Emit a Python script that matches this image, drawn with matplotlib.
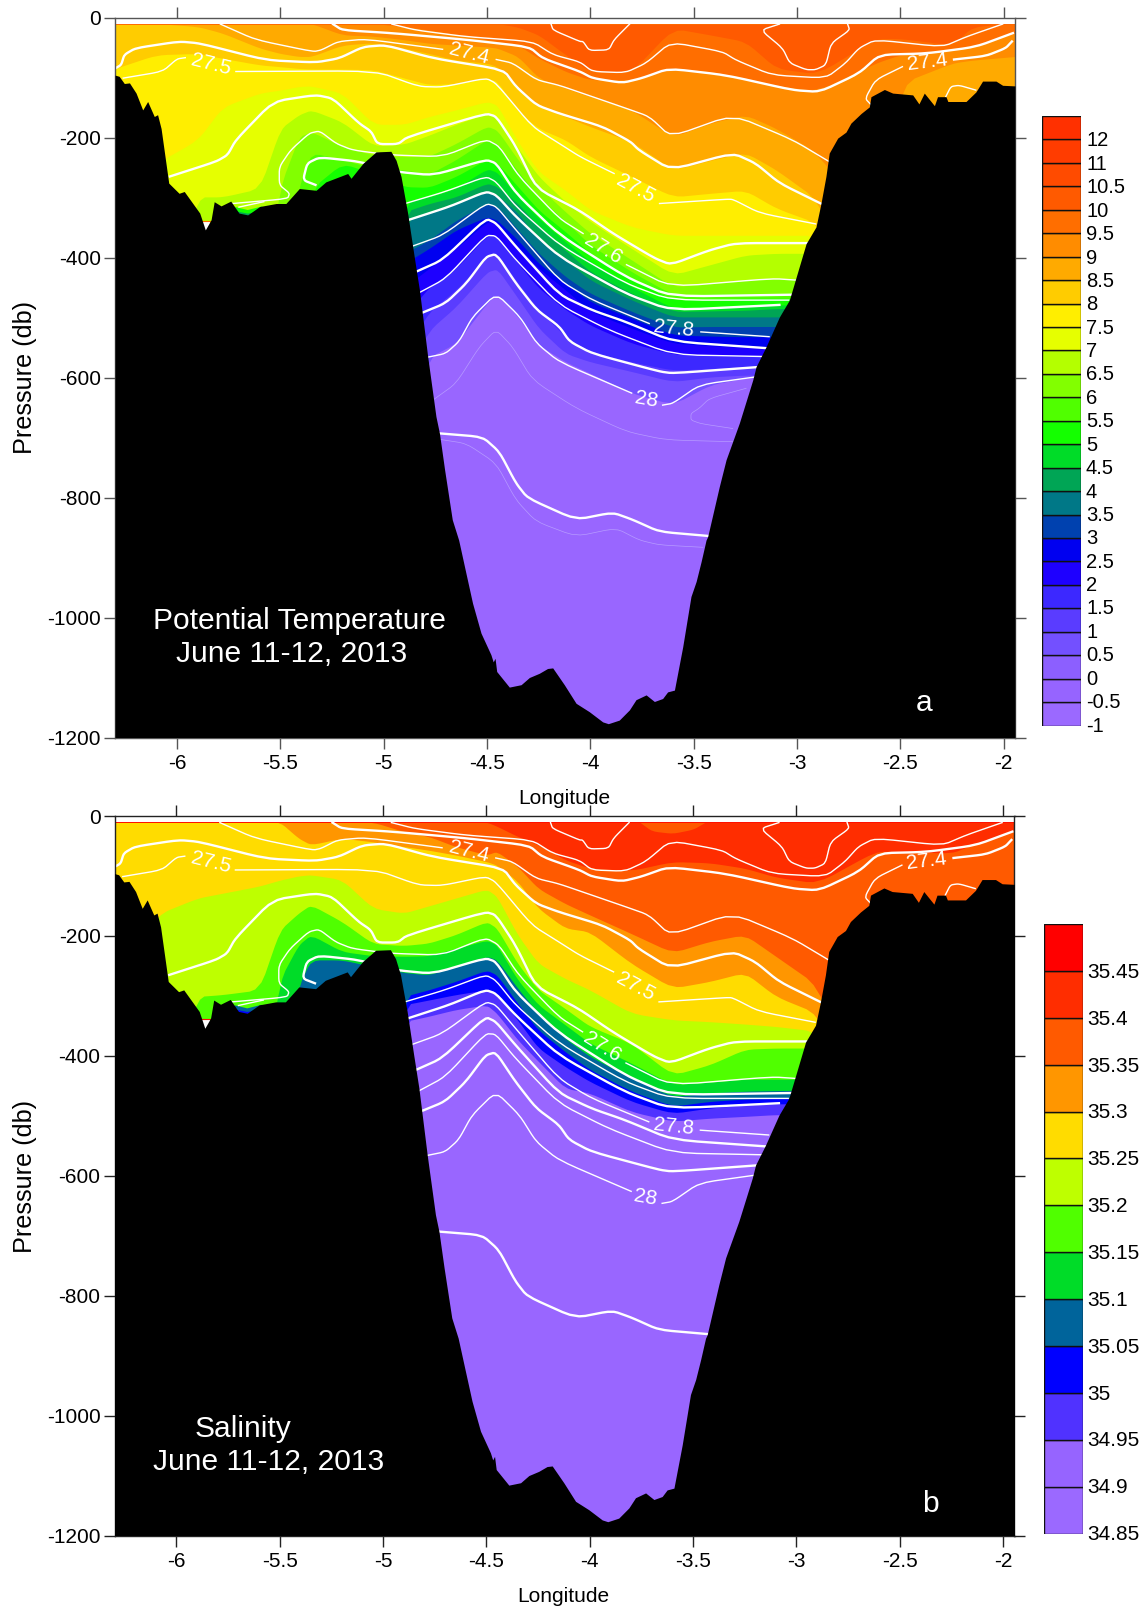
import numpy as np
import matplotlib
matplotlib.use("Agg")
import matplotlib.pyplot as plt

plt.rcParams['font.family'] = ['Liberation Sans', 'DejaVu Sans']
plt.rcParams['axes.unicode_minus'] = False

W, H = 1145, 1611

lon_grid = [-6.30,-6.10,-5.90,-5.78,-5.60,-5.50,-5.41,-5.35,-5.20,-5.05,-4.90,-4.78,-4.65,-4.50,-4.45,
            -4.35,-4.25,-4.12,-4.00,-3.80,-3.60,-3.42,-3.25,-3.10,-2.90,-2.62,-2.50,-2.25,-2.15,-1.945]

# ---- potential temperature: pressure of each isotherm along lon_grid
T10 = [-10]*15+[-16,-29,-62,-90,-90,-18,-29,-40,-85,-94,-35,-35,-46,-15,-10]
T95 = [-10]*10+[-15,-21,-28,-37,-40,-46,-68,-90,-104,-104,-85,-90,-101,-114,-122,-76,-62,-54,-49,-26]
T9  = [-10]*8+[-29,-31,-37,-43,-46,-49,-51,-65,-101,-118,-132,-154,-199,-176,-162,-185,-226,-360,-110,-76,-71,-65]
T85 = [-10,-10,-15,-26,-51,-60,-65,-65,-46,-42,-51,-60,-71,-76,-82,-118,-149,-165,-182,-207,-254,-238,-225,-254,-304,-500,-500,-500,-500,-500]
T8  = [-85,-62,-60,-68,-79,-82,-85,-86,-86,-87,-101,-112,-110,-101,-107,-157,-185,-204,-232,-265,-299,-293,-288,-318,-343,-500,-500,-500,-500,-500]
T75 = [-400,-243,-204,-149,-126,-121,-115,-114,-126,-178,-178,-165,-154,-140,-146,-207,-257,-288,-321,-349,-363,-363,-363,-363,-363,-500,-500,-500,-500,-500]
T7  = [-500,-500,-299,-299,-285,-185,-162,-154,-174,-214,-211,-196,-178,-160,-168,-218,-265,-307,-340,-385,-429,-412,-396,-393,-393]+[-500]*5
T65 = [-500]*5+[-280,-199,-190,-215,-229,-232,-231,-210,-181,-188,-237,-282,-324,-360,-404,-449,-443,-438,-435,-435]+[-500]*5
T6  = [-500]*6+[-280,-225,-237,-251,-254,-261,-237,-203,-210,-257,-299,-340,-379,-424,-462,-461,-460,-460,-460]+[-500]*5
T55 = [-500]*7+[-285,-243,-260,-282,-283,-265,-236,-243,-282,-321,-357,-393,-435,-471,-469,-468,-468,-468]+[-500]*5
T5  = [-700]*10+[-307,-299,-285,-252,-258,-299,-335,-374,-407,-449,-485,-482,-481,-479,-479]+[-700]*5
T45 = [-700]*10+[-324,-310,-299,-276,-282,-310,-349,-388,-424,-460,-490,-489,-488,-485,-485]+[-700]*5
T4  = [-700]*10+[-340,-326,-310,-290,-296,-326,-371,-404,-438,-471,-499,-499,-499,-499,-499]+[-700]*5
T35 = [-700]*10+[-393,-371,-338,-310,-315,-354,-393,-432,-460,-490,-516,-515,-515,-515,-515]+[-700]*5
T3  = [-700]*10+[-410,-385,-354,-332,-338,-371,-410,-443,-474,-501,-529,-531,-532,-532,-532]+[-700]*5
T25 = [-700]*10+[-450,-418,-385,-340,-342,-382,-418,-454,-490,-518,-543,-547,-550,-551,-551]+[-700]*5
T2  = [-700]*10+[-500,-449,-418,-363,-364,-410,-451,-487,-513,-543,-561,-564,-565,-565,-565]+[-700]*5
T15 = [-800]*10+[-560,-490,-454,-399,-394,-443,-487,-532,-557,-574,-588,-585,-582,-582,-582]+[-800]*5
T1  = [-800]*10+[-600,-521,-482,-424,-419,-468,-518,-560,-574,-590,-607,-599,-596,-596,-596]+[-800]*5
T05 = [-800]*10+[-700,-566,-543,-476,-460,-499,-546,-574,-593,-626,-645,-612,-601,-596,-596]+[-800]*5

temp_layers = [T10,T95,T9,T85,T8,T75,T7,T65,T6,T55,T5,T45,T4,T35,T3,T25,T2,T15,T1,T05]
temp_top = '#FF5A00'
temp_cols = ['#FF6E00','#FF8C00','#FFAA00','#FFCC00','#FFEE00','#E6FF00','#B4FF00','#82FF00','#50FF00','#14FF00',
             '#00DC28','#00A555','#007887','#0041AF','#0000F0','#1E00FF','#3C28FF','#5A3CFF','#7350FF','#9966FF']

# ---- salinity: pressure of each isohaline along lon_grid
S354 = [-10]*14+[-17,-34,-48,-73,-87,-91,-76,-78,-87,-102,-112,-59,-59,-62,-48,-23]
S3535= [-10]*10+[-26,-34,-51,-65,-59,-84,-121,-146,-165,-196,-228,-209,-198,-234,-282]+[-500]*5
S33  = [-10]*6+[-37,-48,-37,-43,-51,-57,-65,-76,-82,-109,-154,-187,-193,-246,-287,-276,-261,-301,-329]+[-500]*5
S325 = [-300,-165,-137,-129,-117,-107,-100,-98,-106,-154,-162,-150,-137,-122,-134,-198,-246,-271,-290,-329,-340,-343,-347,-351,-359]+[-500]*5
S32  = [-500,-500,-301,-298,-290,-190,-162,-148,-176,-213,-216,-212,-198,-176,-187,-246,-290,-321,-351,-379,-432,-415,-389,-387,-387]+[-500]*5
S315 = [-500]*5+[-273,-215,-198,-226,-233,-234,-233,-221,-207,-215,-273,-315,-348,-379,-412,-448,-444,-439,-439,-439]+[-500]*5
S31  = [-500]*6+[-284,-240,-240,-251,-261,-265,-251,-234,-240,-287,-329,-371,-401,-437,-468,-462,-459,-458,-457]+[-500]*5
S305 = [-700]*10+[-301,-290,-276,-257,-265,-312,-357,-393,-423,-459,-484,-476,-472,-471,-471]+[-700]*5
S35  = [-700]*10+[-315,-307,-298,-290,-298,-340,-387,-418,-443,-476,-496,-487,-482,-480,-480]+[-700]*5
S3495= [-700]*10+[-343,-334,-323,-315,-329,-373,-409,-454,-462,-493,-509,-504,-501,-498,-498]+[-700]*5

sal_layers = [S354,S3535,S33,S325,S32,S315,S31,S305,S35,S3495]
sal_top = '#FF2D00'
sal_cols = ['#FF5A00','#FF9600','#FFDC00','#BEFF00','#50FF00','#00DC28','#00649B','#0000FF','#5032FF','#9966FF']
lens_lon = [-3.76,-3.70,-3.60,-3.50,-3.44]
lens_p = [-10,-25,-29,-22,-10]

# small pockets on the floor west of the ridge
pocket_lon = [-5.72,-5.66,-5.59]
pocket_p = [-315,-320,-314]
pocket2_p = [-322,-326,-322]

# ---- bathymetry
bath_lon = [-6.30,-6.28,-6.255,-6.23,-6.198,-6.166,-6.142,-6.11,-6.094,-6.077,-6.04,-5.99,-5.965,-5.89,-5.863,-5.835,-5.82,-5.787,-5.74,-5.70,-5.658,-5.60,-5.52,-5.473,-5.408,-5.327,-5.28,-5.174,-5.158,-5.10,-5.037,-4.965,-4.94,-4.916,-4.884,-4.852,-4.827,-4.787,-4.747,-4.73,-4.705,-4.668,-4.637,-4.602,-4.57,-4.529,-4.481,-4.47,-4.461,-4.453,-4.392,-4.335,-4.295,-4.247,-4.207,-4.182,-4.126,-4.069,-4.005,-3.94,-3.913,-3.86,-3.811,-3.779,-3.73,-3.69,-3.65,-3.626,-3.593,-3.553,-3.513,-3.488,-3.464,-3.44,-3.432,-3.376,-3.343,-3.279,-3.214,-3.198,-3.15,-3.085,-3.037,-2.956,-2.908,-2.884,-2.86,-2.844,-2.803,-2.763,-2.739,-2.69,-2.65,-2.642,-2.577,-2.537,-2.44,-2.41,-2.384,-2.335,-2.32,-2.279,-2.27,-2.182,-2.134,-2.102,-2.037,-2.005,-1.945]
bath_p = [-96,-98,-110,-109,-126,-154,-140,-165,-162,-185,-276,-293,-290,-326,-354,-337,-307,-314,-306,-326,-329,-315,-310,-310,-285,-288,-274,-260,-268,-243,-224,-223,-238,-265,-326,-399,-454,-565,-665,-693,-754,-837,-871,-926,-976,-1026,-1062,-1074,-1068,-1090,-1116,-1112,-1100,-1093,-1085,-1084,-1112,-1143,-1157,-1174,-1177,-1171,-1154,-1137,-1129,-1140,-1135,-1124,-1121,-1049,-965,-940,-907,-871,-865,-782,-737,-676,-604,-582,-549,-499,-471,-377,-349,-310,-265,-226,-201,-191,-176,-160,-149,-132,-120,-126,-129,-144,-126,-147,-132,-132,-140,-140,-124,-106,-106,-113,-114]

# ---- isopycnals
l1a_lon=[-5.79,-5.62,-5.34,-5.30,-5.22,-5.085,-4.715]; l1a_p=[-11,-37,-57,-54,-40,-36,-53]
l1b_lon=[-4.455,-4.375,-4.26,-4.15,-3.99,-3.83,-3.715,-3.61,-3.31,-3.02,-2.845]; l1b_p=[-70,-76,-104,-113,-132,-151,-165,-199,-162,-204,-240]
l1c_lon=[-2.49,-2.62,-2.67,-2.64]; l1c_p=[-82,-104,-135,-146]
l1d_lon=[-2.24,-2.085,-1.99,-1.96]; l1d_p=[-70,-64,-51,-40]
l2_lon=[-5.245,-5.2,-4.96,-4.6,-4.295,-4.23,-4.05,-3.99,-3.845,-3.75,-3.62,-3.345,-3.02,-2.89,-2.70,-2.6,-2.375,-2.135,-1.955]
l2_p=[-11,-21,-26,-37,-49,-68,-90,-101,-109,-101,-85,-96,-121,-124,-93,-62,-60,-49,-26]
l3_lon=[-4.96,-4.845,-4.6,-4.28,-4.18,-4.05,-3.99,-3.83,-3.73,-3.61,-3.36,-3.295,-3.12,-2.86,-2.765,-2.70,-2.62,-2.295,-2.18,-2.005]
l3_p=[-11,-21,-32,-40,-62,-74,-90,-92,-76,-41,-57,-71,-96,-101,-76,-51,-37,-49,-32,-11]
l4_lon=[-4.19,-4.18,-4.05,-4.035,-4.005,-3.91,-3.885,-3.81]; l4_p=[-11,-21,-40,-40,-55,-54,-37,-11]
l5_lon=[-3.085,-3.175,-3.07,-3.035,-2.955,-2.91,-2.86,-2.835,-2.745,-2.755]; l5_p=[-11,-21,-51,-76,-87,-87,-79,-43,-21,-11]
l6_lon=[-6.30,-6.27,-6.255,-6.2,-5.99,-5.89,-5.57,-5.33,-5.215,-5.10,-4.99,-4.76,-4.42,-4.36,-4.26,-4.15,-3.94,-3.805,-3.765,-3.61,-3.31,-3.2,-3.085,-2.885]
l6_p=[-85,-79,-62,-51,-40,-43,-71,-75,-68,-49,-46,-68,-87,-115,-146,-160,-182,-207,-221,-254,-226,-243,-276,-310]
l7a_lon=[-6.26,-6.07,-6.0,-5.96]; l7a_p=[-101,-90,-69,-67]
l7b_lon=[-5.715,-5.04,-4.83,-4.715,-4.505,-4.455,-4.28,-4.15,-4.05,-3.885]; l7b_p=[-90,-89,-115,-116,-101,-110,-182,-210,-232,-260]
l7c_lon=[-3.665,-3.345,-3.31,-3.18,-2.91]; l7c_p=[-310,-303,-303,-326,-344]
l8_lon=[-6.035,-5.81,-5.755,-5.715,-5.535,-5.33,-5.245,-5.12,-5.06,-5.03,-4.93,-4.885,-4.505,-4.455,-4.36,-4.26,-4.055,-3.89,-3.69,-3.61,-3.425,-3.295,-2.94]
l8_p=[-265,-240,-229,-204,-140,-129,-135,-176,-190,-211,-211,-199,-160,-165,-215,-285,-321,-360,-401,-412,-388,-376,-376]
l9a_lon=[-5.73,-5.465,-5.455,-5.505,-5.505,-5.45,-5.36,-5.31,-5.23,-5.15,-4.97,-4.715,-4.505,-4.44,-4.345,-4.15,-4.035]
l9a_p=[-310,-302,-293,-279,-249,-221,-193,-189,-210,-221,-229,-232,-203,-215,-265,-335,-360]
l9b_lon=[-3.825,-3.61,-3.12,-2.99]; l9b_p=[-412,-449,-435,-438]
l10_lon=[-5.33,-5.39,-5.37,-5.31,-5.12,-4.94,-4.76,-4.505,-4.455,-4.36,-4.15,-3.83,-3.61,-3.02]
l10_p=[-279,-271,-243,-233,-240,-257,-263,-237,-243,-293,-362,-432,-465,-462]
l11a_lon=[-5.70,-5.58]; l11a_p=[-316,-307]
l11b_lon=[-4.895,-4.7,-4.505,-4.455,-4.36,-4.15,-3.83,-3.61,-3.04]; l11b_p=[-310,-290,-265,-274,-315,-379,-443,-471,-471]
l12_lon=[-4.885,-4.68,-4.505,-4.455,-4.36,-4.15,-3.83,-3.61,-3.085]; l12_p=[-338,-315,-290,-296,-332,-399,-460,-488,-479]
l13a_lon=[-4.86,-4.715,-4.505,-4.455,-4.36,-4.15,-3.99,-3.715]; l13a_p=[-381,-363,-310,-315,-354,-438,-471,-510]
l13b_lon=[-3.465,-3.135]; l13b_p=[-524,-532]
l14_lon=[-4.845,-4.715,-4.505,-4.455,-4.36,-4.15,-3.99,-3.83,-3.6,-3.15]; l14_p=[-424,-404,-335,-343,-382,-462,-488,-507,-540,-551]
l15_lon=[-4.83,-4.7,-4.505,-4.455,-4.36,-4.15,-3.91,-3.6,-3.165]; l15_p=[-459,-435,-363,-364,-404,-479,-521,-562,-565]
l16_lon=[-4.82,-4.7,-4.60,-4.505,-4.455,-4.36,-4.26,-4.15,-4.10,-3.99,-3.665,-3.6,-3.165]; l16_p=[-493,-476,-443,-399,-394,-443,-487,-515,-540,-560,-590,-593,-582]
l17a_lon=[-4.785,-4.7,-4.635,-4.57,-4.455,-4.34,-4.26,-4.15,-3.80]; l17a_p=[-566,-560,-540,-499,-460,-499,-543,-574,-626]
l17b_lon=[-3.65,-3.6,-3.47,-3.2]; l17b_p=[-646,-643,-612,-599]
l19_lon=[-4.734,-4.521,-4.44,-4.36,-4.303,-4.07,-3.892,-3.795,-3.666,-3.432]; l19_p=[-693,-699,-724,-776,-801,-837,-825,-837,-857,-864]
shelf_lon=[-2.28,-2.255,-2.215,-2.135]; shelf_p=[-132,-115,-113,-121]
# faint isotherm contours, upper panel only
f1_lon=[-4.755,-4.65,-4.537,-4.456,-4.376,-4.28,-4.07,-3.827,-3.634,-3.311]; f1_p=[-636,-610,-549,-520,-549,-604,-651,-690,-704,-707]
f2_lon=[-4.731,-4.60,-4.456,-4.36,-4.263,-4.07,-3.876,-3.763,-3.666,-3.456]; f2_p=[-703,-710,-743,-804,-840,-865,-851,-871,-879,-883]
f3_lon=[-3.246,-3.424,-3.472,-3.513,-3.513,-3.464,-3.311]; f3_p=[-618,-635,-651,-660,-671,-677,-685]

thick_lines = [(l2_lon,l2_p),(l6_lon,l6_p),(l8_lon,l8_p),(l10_lon,l10_p),(l12_lon,l12_p),(l14_lon,l14_p),(l16_lon,l16_p),(l19_lon,l19_p),(l1d_lon,l1d_p)]
thin_lines = [(l1a_lon,l1a_p),(l1b_lon,l1b_p),(l1c_lon,l1c_p),(l3_lon,l3_p),(l4_lon,l4_p),(l5_lon,l5_p),(l7a_lon,l7a_p),(l7b_lon,l7b_p),(l7c_lon,l7c_p),
              (l9a_lon,l9a_p),(l9b_lon,l9b_p),(l11a_lon,l11a_p),(l11b_lon,l11b_p),(l13a_lon,l13a_p),(l13b_lon,l13b_p),(l15_lon,l15_p),(l17a_lon,l17a_p),(l17b_lon,l17b_p),(shelf_lon,shelf_p)]
faint_lines = [(f1_lon,f1_p),(f2_lon,f2_p),(f3_lon,f3_p)]

lab_text = ['27.5','27.4','27.4','27.5','27.6','27.8','28']
lab_lon = [-5.835,-4.585,-2.37,-3.78,-3.94,-3.595,-3.73]
lab_p = [-78,-60,-75,-285,-386,-518,-636]
lab_rot = [-14,-14,7,-28,-32,-6,-10]

xtick_vals = [-6,-5.5,-5,-4.5,-4,-3.5,-3,-2.5,-2]
xtick_labels = ['-6','-5.5','-5','-4.5','-4','-3.5','-3','-2.5','-2']
ytick_vals = [0,-200,-400,-600,-800,-1000,-1200]
ytick_labels = ['0','-200','-400','-600','-800','-1000','-1200']

temp_cb_labels = ['12','11','10.5','10','9.5','9','8.5','8','7.5','7','6.5','6','5.5','5','4.5','4','3.5','3','2.5','2','1.5','1','0.5','0','-0.5','-1']
temp_cb_cols = ['#FF3000','#FF3C00','#FF4B00','#FF5A00','#FF6E00','#FF8C00','#FFAA00','#FFCC00','#FFEE00','#E6FF00','#B4FF00','#82FF00','#50FF00','#14FF00','#00DC28','#00A555','#007887','#0041AF','#0000F0','#1E00FF','#3C28FF','#5A3CFF','#7350FF','#8C5FFF','#9664FF','#9B69FF']
sal_cb_labels = ['35.45','35.4','35.35','35.3','35.25','35.2','35.15','35.1','35.05','35','34.95','34.9','34.85']
sal_cb_cols = ['#FF0000','#FF2D00','#FF5A00','#FF9600','#FFDC00','#BEFF00','#50FF00','#00DC28','#00649B','#0000FF','#5032FF','#9664FF','#9B69FF']

fig = plt.figure(figsize=(W/100, H/100), dpi=100)

def pix_axes(l, t, r, b):
    return fig.add_axes([l/W, 1-b/H, (r-l)/W, (b-t)/H])

def ftext(x, y, s, **kw):
    fig.text(x/W, 1-y/H, s, ha='center', va='center', **kw)

def rounded(x, y, n=2, c=0.16):
    """Soften the corners of a drawn contour (corner cutting, ends kept)."""
    x, y = np.asarray(x, float), np.asarray(y, float)
    for _ in range(n):
        qx, qy = (1-c)*x[:-1]+c*x[1:], (1-c)*y[:-1]+c*y[1:]
        rx, ry = c*x[:-1]+(1-c)*x[1:], c*y[:-1]+(1-c)*y[1:]
        x = np.r_[x[0], np.c_[qx, rx].ravel(), x[-1]]
        y = np.r_[y[0], np.c_[qy, ry].ravel(), y[-1]]
    return x, y

def panel(box, top_col, layers, cols, spine_col, edge_col, faint, pocket_cols):
    ax = pix_axes(*box)
    ax.set_xlim(-6.30, -1.945); ax.set_ylim(-1200, 0)
    ax.fill_between(lon_grid, -10, -1200, color=top_col, lw=0)
    for p, c in zip(layers, cols):
        xs, ys = rounded(lon_grid, p)
        ax.fill_between(xs, ys, -1200, color=c, lw=0)
    ax.fill_between(pocket_lon, pocket_p, -340, color=pocket_cols[0], lw=0)
    ax.fill_between(pocket_lon, pocket2_p, -340, color=pocket_cols[1], lw=0)
    ax.plot([-6.30,-1.945], [-10,-10], color=edge_col, lw=0.7)
    for lon, p in thin_lines:
        ax.plot(*rounded(lon, p), color='white', lw=1.0, solid_joinstyle='round')
    for lon, p in thick_lines:
        ax.plot(*rounded(lon, p), color='white', lw=1.7, solid_joinstyle='round')
    if faint:
        for lon, p in faint_lines:
            ax.plot(*rounded(lon, p), color='#B79BFF', lw=0.5)
    ax.fill_between([-5.885,-5.84], [-340,-340], -365, color='white', lw=0)
    ax.plot([-5.885,-5.84], [-339,-339], color=edge_col, lw=0.8)
    ax.fill_between(bath_lon, bath_p, -1200, color='black', lw=0, zorder=4)
    for s, x, y, r in zip(lab_text, lab_lon, lab_p, lab_rot):
        ax.text(x, y, s, color='white', fontsize=15, rotation=r, ha='center', va='center',
                rotation_mode='anchor', zorder=5)
    ax.set_xticks(xtick_vals, xtick_labels); ax.set_yticks(ytick_vals, ytick_labels)
    ax.tick_params(top=True, right=True, direction='out', length=8, width=1, color=spine_col,
                   labelsize=15, pad=2)
    ax.tick_params(axis='x', pad=4)
    for s in ax.spines.values():
        s.set_color(spine_col); s.set_linewidth(1)
    return ax

def colorbar(box, cols, labels, lx, fs, ly0, ly1):
    ax = pix_axes(*box)
    n = len(cols)
    ax.barh(np.arange(n), [1]*n, height=1, left=0, align='edge', color=cols[::-1], edgecolor='#101010', linewidth=1)
    ax.set_xlim(0, 1); ax.set_ylim(0, n); ax.axis('off')
    for s, yy in zip(labels, np.linspace(ly0, ly1, len(labels))):
        fig.text(lx/W, 1-yy/H, s, ha='left', va='center', fontsize=fs)

a = panel((115, 17.5, 1015, 737.5), temp_top, temp_layers, temp_cols, '#555555', '#FF6A00', True, ('#14FF00','#00A555'))
b = panel((114.5, 816, 1014.5, 1535.5), sal_top, sal_layers, sal_cols, '#222222', '#FF1000', False, ('#00649B','#0000FF'))
b.fill_between(*rounded(lens_lon, lens_p), -10, color='#FF5A00', lw=0, zorder=1.5)

colorbar((1042, 116, 1081, 725.5), temp_cb_cols, temp_cb_labels, 1086, 14.5, 141, 726)
colorbar((1044, 924, 1083, 1533.5), sal_cb_cols, sal_cb_labels, 1087, 15, 972.5, 1534.5)

ftext(564, 799, 'Longitude', fontsize=15)
ftext(563, 1597, 'Longitude', fontsize=15)
ftext(25, 377, 'Pressure (db)', fontsize=18.2, rotation=90)
ftext(25, 1176, 'Pressure (db)', fontsize=18.2, rotation=90)
ftext(299, 621, 'Potential Temperature', fontsize=21.6, color='white', zorder=10)
ftext(292, 654, 'June 11-12, 2013', fontsize=21.6, color='white', zorder=10)
ftext(924, 703, 'a', fontsize=21.6, color='white', zorder=10)
ftext(243, 1429, 'Salinity', fontsize=21.6, color='white', zorder=10)
ftext(269, 1462, 'June 11-12, 2013', fontsize=21.6, color='white', zorder=10)
ftext(930, 1504, 'b', fontsize=21.6, color='white', zorder=10)

fig.savefig('out.png', dpi=100)
